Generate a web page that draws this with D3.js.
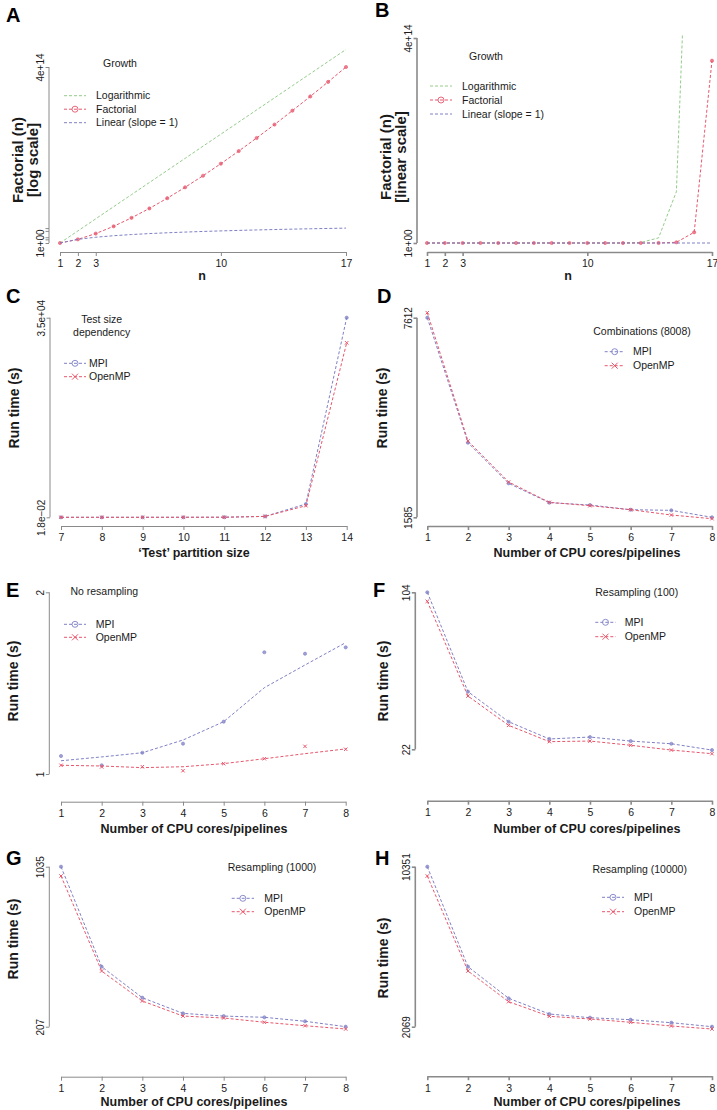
<!DOCTYPE html>
<html><head><meta charset="utf-8">
<script src="https://cdn.jsdelivr.net/npm/d3@7"></script>
<style>
body{margin:0;background:#fff}
svg{display:block}
text{font-family:"Liberation Sans",Arial,Helvetica,sans-serif;fill:#1a1a1a}
</style>
</head><body>
<svg id="c" width="717" height="1110"></svg>
<script>
// ---------------- DATA ----------------
const growthN = [1,2,3,4,5,6,7,8,9,10,11,12,13,14,15,16,17];
const factorialVals = [1,2,6,24,120,720,5040,40320,362880,3628800,39916800,479001600,6227020800,87178291200,1307674368000,20922789888000,355687428096000];
const logarithmicVals = [1e0,1e1,1e2,1e3,1e4,1e5,1e6,1e7,1e8,1e9,1e10,1e11,1e12,1e13,1e14,1e15,1e16];
const linearVals = [1,2,3,4,5,6,7,8,9,10,11,12,13,14,15,16,17];
const growthXTicks = [1,2,3,10,17];
const growthYTicksLog = [1,355687428096000];
const growthYMinorLog = [2,3,10,17];
const growthYTicksLin = [1,4e14];
const growthYLabels = ["1e+00","4e+14"];

const testSizes = [7,8,9,10,11,12,13,14];
const mpiTestSize = [0.018,0.1,0.6,3,15,160,2330,35000];
const ompTestSize = [0.018,0.1,0.6,3,15,160,2030,30600];
const testSizeYTicks = [0.018,35000];
const testSizeYLabels = ["1.8e\u221202","3.5e+04"];

const cores = [1,2,3,4,5,6,7,8];
const mpiComb = [7612,3837,2611,2026,1956,1814,1795,1585];
const ompComb = [7763,3889,2651,2038,1935,1814,1654,1543];
const combYTicks = [1585,7612];
const combYLabels = ["1585","7612"];

const mpiNoRes = [1.099,1.048,1.117,1.167,1.288,1.670,1.662,1.697];
const ompNoRes = [1.048,1.039,1.040,1.018,1.057,1.084,1.152,1.136];
const mpiNoResTrend = [1.073,1.094,1.117,1.187,1.288,1.475,1.600,1.723];
const ompNoResTrend = [1.048,1.044,1.035,1.040,1.057,1.084,1.112,1.138];
const noResYTicks = [1,2];
const noResYLabels = ["1","2"];

const mpiRes100 = [104,52.1,36.4,27.4,28.4,26.3,24.9,21.6];
const ompRes100 = [99.3,49.8,34.5,26.0,26.3,24.1,21.6,19.7];
const res100YTicks = [22,104];
const res100YLabels = ["22","104"];

const mpiRes1000 = [1035,517.5,357,276,262,255.6,235,207];
const ompRes1000 = [987,495,340,262,252,230,212,195];
const res1000YTicks = [207,1035];
const res1000YLabels = ["207","1035"];

const mpiRes10000 = [10351,5175,3539,2726,2535,2431,2276,2069];
const ompRes10000 = [9869,4952,3363,2607,2467,2297,2105,1950];
const res10000YTicks = [2069,10351];
const res10000YLabels = ["2069","10351"];

// ---------------- STYLE ----------------
const BLUE = "#7f80c6", RED = "#e8566c", GREEN = "#93cc8a", AXIS = "#8a8a8a";

const svg = d3.select("#c");

function drawMarker(g, type, cx, cy, color, s) {
  if (type === "o") {
    g.append("circle").attr("cx", cx).attr("cy", cy).attr("r", s)
      .attr("fill", "none").attr("stroke", color).attr("stroke-width", 0.9);
  } else if (type === "dot") {
    g.append("circle").attr("cx", cx).attr("cy", cy).attr("r", s)
      .attr("fill", color).attr("fill-opacity", 0.75).attr("stroke", color).attr("stroke-width", 0.6);
  } else if (type === "x") {
    g.append("path").attr("d", `M${cx-s},${cy-s}L${cx+s},${cy+s}M${cx-s},${cy+s}L${cx+s},${cy-s}`)
      .attr("stroke", color).attr("stroke-width", 1).attr("fill", "none");
  }
}

function panel(c) {
  const g = svg.append("g");
  const x = d3.scaleLinear().domain([c.xs[0], c.xs[c.xs.length-1]]).range([c.x0, c.x1]);
  const y = (c.log ? d3.scaleLog() : d3.scaleLinear()).domain([c.yTicks[0], c.yTicks[c.yTicks.length-1]]).range([c.yBot, c.yTop]);

  // letter
  g.append("text").attr("x", c.letter[1]).attr("y", c.letter[2]).text(c.letter[0])
    .attr("font-size", 20).attr("font-weight", "bold").style("fill", "#000");

  // x axis
  const gx = g.append("g").attr("transform", `translate(0,${c.xAxisY})`)
    .call(d3.axisBottom(x).tickValues(c.xTicks).tickSize(4).tickSizeOuter(0).tickFormat(d3.format("d")));
  gx.selectAll("path,line").attr("stroke", AXIS).attr("stroke-width", c.axisW);
  gx.selectAll("text").attr("font-size", 10.5).attr("font-family", null).attr("y", 8).attr("dy", "0.71em");

  // y axis
  const allY = c.yTicks.concat(c.yMinor || []);
  const gy = g.append("g").attr("transform", `translate(${c.yAxisX},0)`)
    .call(d3.axisLeft(y).tickValues(allY).tickSize(3.5).tickSizeOuter(0)
      .tickFormat(d => { const k = c.yTicks.indexOf(d); return k >= 0 ? c.yLabels[k] : ""; }));
  gy.select(".domain").attr("d", `M0,${c.yBot}V${c.yTop}`);
  gy.selectAll("path,line").attr("stroke", AXIS).attr("stroke-width", c.axisW);
  gy.selectAll("text").attr("font-size", 10).attr("font-family", null)
    .attr("x", null).attr("dy", null).attr("text-anchor", "middle")
    .attr("transform", "translate(-5,0) rotate(-90)");

  // axis titles
  g.append("text").attr("x", c.xLab[1]).attr("y", c.xLab[2]).attr("dy", "0.35em")
    .attr("text-anchor", "middle").attr("font-size", 12.5).attr("font-weight", "bold").text(c.xLab[0]);
  c.yLab.forEach(l => {
    g.append("text").attr("transform", `translate(${l[1]},${l[2]}) rotate(-90)`).attr("dy", "0.35em")
      .attr("text-anchor", "middle").attr("font-size", c.yLabSize).attr("font-weight", "bold").text(l[0]);
  });

  // series
  const plot = g.append("g");
  if (c.clip) {
    const id = "clip" + c.letter[0];
    svg.append("clipPath").attr("id", id).append("rect")
      .attr("x", c.clip[0]).attr("y", c.clip[1]).attr("width", c.clip[2]).attr("height", c.clip[3]);
    plot.attr("clip-path", `url(#${id})`);
  }
  c.series.forEach(s => {
    const lineVals = s.line || s.vals;
    const line = d3.line().x((d, i) => x(c.xs[i])).y(d => y(d));
    plot.append("path").attr("d", line(lineVals)).attr("fill", "none")
      .attr("stroke", s.color).attr("stroke-width", 1).attr("stroke-dasharray", "3,2");
    if (s.mark) {
      s.vals.forEach((v, i) => drawMarker(plot, s.mark, x(c.xs[i]), y(v), s.color, s.mark === "x" ? 1.7 : 1.6));
    }
  });

  // legend
  const L = c.legend;
  L.title.forEach(t => {
    g.append("text").attr("x", t[1]).attr("y", t[2]).attr("dy", "0.35em")
      .attr("text-anchor", "middle").attr("font-size", 10.5).text(t[0]);
  });
  c.series.forEach((s, i) => {
    const yy = L.rows[i];
    g.append("line").attr("x1", L.lx0).attr("x2", L.lx1).attr("y1", yy).attr("y2", yy)
      .attr("stroke", s.color).attr("stroke-width", 1).attr("stroke-dasharray", "3,2");
    if (s.legMark) drawMarker(g, s.legMark, (L.lx0 + L.lx1) / 2, yy, s.color, 3);
    g.append("text").attr("x", L.tx).attr("y", yy).attr("dy", "0.35em")
      .attr("font-size", 10.5).text(s.name);
  });
}

const cpuLab = "Number of CPU cores/pipelines";

panel({
  letter: ["A", 6, 22], log: true, axisW: 1, yLabSize: 15,
  xs: growthN, xTicks: growthXTicks, x0: 60, x1: 346, xAxisY: 252,
  yTicks: growthYTicksLog, yMinor: growthYMinorLog, yLabels: growthYLabels, yAxisX: 49, yTop: 67, yBot: 243,
  xLab: ["n", 202, 276], yLab: [["Factorial (n)", 18, 160], ["[log scale]", 33, 160]],
  series: [
    {name: "Logarithmic", vals: logarithmicVals, color: GREEN},
    {name: "Factorial", vals: factorialVals, color: RED, mark: "dot", legMark: "o"},
    {name: "Linear (slope = 1)", vals: linearVals, color: BLUE}
  ],
  legend: {title: [["Growth", 120, 63]], rows: [95.7, 109.2, 122.7], lx0: 64, lx1: 86, tx: 96}
});

panel({
  letter: ["B", 375, 17], log: false, axisW: 1.6, yLabSize: 15,
  xs: growthN, xTicks: growthXTicks, x0: 427, x1: 712, xAxisY: 252,
  yTicks: growthYTicksLin, yLabels: growthYLabels, yAxisX: 417, yTop: 38, yBot: 243,
  xLab: ["n", 568, 276], yLab: [["Factorial (n)", 386, 157], ["[linear scale]", 401, 157]],
  clip: [418, 35, 300, 220],
  series: [
    {name: "Logarithmic", vals: logarithmicVals, color: GREEN},
    {name: "Factorial", vals: factorialVals, color: RED, mark: "dot", legMark: "o"},
    {name: "Linear (slope = 1)", vals: linearVals, color: BLUE}
  ],
  legend: {title: [["Growth", 486, 56]], rows: [86, 100, 114], lx0: 430, lx1: 452, tx: 462}
});

panel({
  letter: ["C", 6, 303], log: false, axisW: 1, yLabSize: 14,
  xs: testSizes, xTicks: testSizes, x0: 61, x1: 346.7, xAxisY: 526,
  yTicks: testSizeYTicks, yLabels: testSizeYLabels, yAxisX: 50, yTop: 317.7, yBot: 517.3,
  xLab: ["\u2018Test\u2019 partition size", 194, 553], yLab: [["Run time (s)", 13.7, 408]],
  series: [
    {name: "MPI", vals: mpiTestSize, color: BLUE, mark: "dot", legMark: "o"},
    {name: "OpenMP", vals: ompTestSize, color: RED, mark: "x", legMark: "x"}
  ],
  legend: {title: [["Test size", 101.7, 319.3], ["dependency", 101.7, 332.3]], rows: [363.3, 376.7], lx0: 64, lx1: 86, tx: 89}
});

panel({
  letter: ["D", 377, 303], log: false, axisW: 1.6, yLabSize: 14,
  xs: cores, xTicks: cores, x0: 427.3, x1: 712, xAxisY: 526,
  yTicks: combYTicks, yLabels: combYLabels, yAxisX: 417, yTop: 317.7, yBot: 517.3,
  xLab: [cpuLab, 587, 553], yLab: [["Run time (s)", 382, 408]],
  series: [
    {name: "MPI", vals: mpiComb, color: BLUE, mark: "dot", legMark: "o"},
    {name: "OpenMP", vals: ompComb, color: RED, mark: "x", legMark: "x"}
  ],
  legend: {title: [["Combinations (8008)", 642, 331.7]], rows: [351.7, 365.7], lx0: 604.7, lx1: 624.7, tx: 633}
});

panel({
  letter: ["E", 6, 597], log: false, axisW: 1, yLabSize: 14,
  xs: cores, xTicks: cores, x0: 61, x1: 345.7, xAxisY: 801.7,
  yTicks: noResYTicks, yLabels: noResYLabels, yAxisX: 49.3, yTop: 592.3, yBot: 774,
  xLab: [cpuLab, 194, 829], yLab: [["Run time (s)", 13, 681]],
  series: [
    {name: "MPI", vals: mpiNoRes, line: mpiNoResTrend, color: BLUE, mark: "dot", legMark: "o"},
    {name: "OpenMP", vals: ompNoRes, line: ompNoResTrend, color: RED, mark: "x", legMark: "x"}
  ],
  legend: {title: [["No resampling", 104.3, 591.7]], rows: [624.3, 637.3], lx0: 64, lx1: 86, tx: 95.7}
});

panel({
  letter: ["F", 373, 596.5], log: false, axisW: 1.6, yLabSize: 14,
  xs: cores, xTicks: cores, x0: 427.3, x1: 712, xAxisY: 800.7,
  yTicks: res100YTicks, yLabels: res100YLabels, yAxisX: 415.3, yTop: 592.3, yBot: 749.3,
  xLab: [cpuLab, 587, 829], yLab: [["Run time (s)", 383, 681]],
  series: [
    {name: "MPI", vals: mpiRes100, color: BLUE, mark: "dot", legMark: "o"},
    {name: "OpenMP", vals: ompRes100, color: RED, mark: "x", legMark: "x"}
  ],
  legend: {title: [["Resampling (100)", 636.7, 592.7]], rows: [622.3, 636.7], lx0: 595.3, lx1: 615.7, tx: 624.7}
});

panel({
  letter: ["G", 6, 865], log: false, axisW: 1, yLabSize: 14,
  xs: cores, xTicks: cores, x0: 61, x1: 345.7, xAxisY: 1076.7,
  yTicks: res1000YTicks, yLabels: res1000YLabels, yAxisX: 49.3, yTop: 866.7, yBot: 1026.7,
  xLab: [cpuLab, 194, 1102], yLab: [["Run time (s)", 13, 939]],
  series: [
    {name: "MPI", vals: mpiRes1000, color: BLUE, mark: "dot", legMark: "o"},
    {name: "OpenMP", vals: ompRes1000, color: RED, mark: "x", legMark: "x"}
  ],
  legend: {title: [["Resampling (1000)", 272, 867.3]], rows: [898.3, 911.7], lx0: 231.7, lx1: 254, tx: 264.3}
});

panel({
  letter: ["H", 375, 865], log: false, axisW: 1.6, yLabSize: 14,
  xs: cores, xTicks: cores, x0: 427.3, x1: 712, xAxisY: 1076.2,
  yTicks: res10000YTicks, yLabels: res10000YLabels, yAxisX: 415.3, yTop: 866.7, yBot: 1026.7,
  xLab: [cpuLab, 587, 1102], yLab: [["Run time (s)", 383, 958]],
  series: [
    {name: "MPI", vals: mpiRes10000, color: BLUE, mark: "dot", legMark: "o"},
    {name: "OpenMP", vals: ompRes10000, color: RED, mark: "x", legMark: "x"}
  ],
  legend: {title: [["Resampling (10000)", 639.7, 869.3]], rows: [897.3, 911.7], lx0: 602, lx1: 624, tx: 634}
});
</script>
</body></html>
